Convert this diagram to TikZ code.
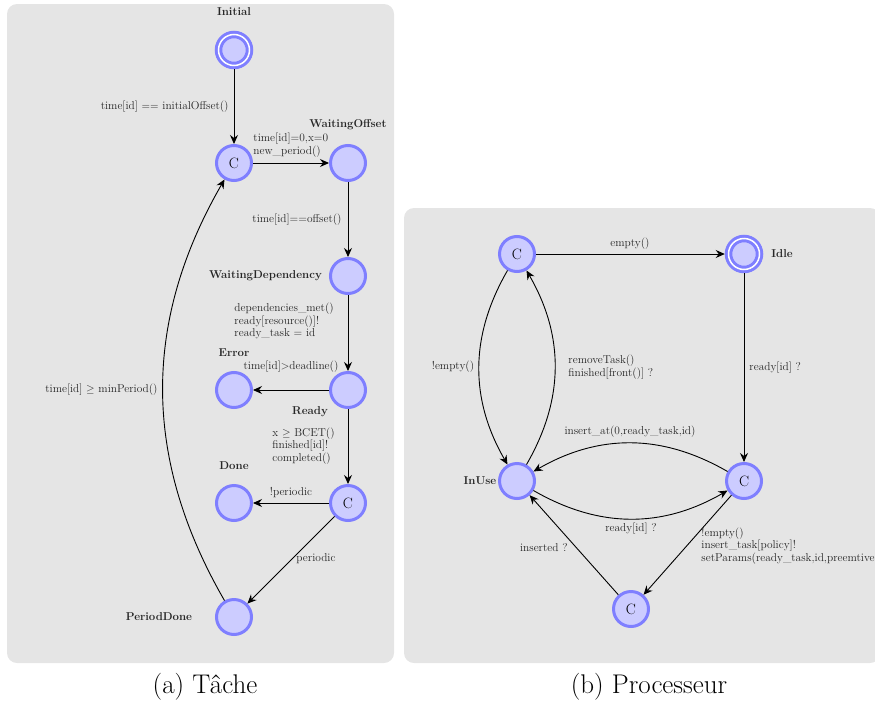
\documentclass[tikz,border=0pt]{standalone}
\usetikzlibrary{arrows.meta}
\definecolor{stateblue}{RGB}{127,127,255}
\definecolor{statefill}{RGB}{204,204,255}
\definecolor{panelgray}{RGB}{229,229,229}
\begin{document}
\begin{tikzpicture}[x=1pt,y=1pt,
 state/.style={circle, draw=stateblue, fill=statefill, line width=3pt, minimum size=35pt, inner sep=0pt, font=\fontsize{15}{15}\selectfont},
 initstate/.style={state, double=white, double distance=1.5pt, minimum size=31pt, outer sep=3.75pt},
 trans/.style={-{Stealth[length=9pt,width=8pt,inset=3pt]}, line width=0.9pt, black},
 lbl/.style={font=\fontsize{11.4}{12.8}\selectfont, inner sep=0pt, align=left, text=black!85},
 sname/.style={font=\bfseries\fontsize{11.4}{12}\selectfont, inner sep=0pt, text=black!85},
 panel/.style={fill=panelgray, rounded corners=10pt},
 caption/.style={font=\fontsize{27}{30}\selectfont, inner sep=0pt}
]
\clip (0,0) rectangle (875,-704);
\fill[panel] (7,-4) rectangle (394,-663);
\fill[panel] (404,-208) rectangle (880,-663);

% Tache
\node[initstate] (init) at (234,-50) {};
\node[state] (c1) at (234,-163) {C};
\node[state] (wo) at (348,-163) {};
\node[state] (wd) at (348,-276) {};
\node[state] (ready) at (348,-390) {};
\node[state] (err) at (234,-390) {};
\node[state] (c2) at (348,-503) {C};
\node[state] (done) at (234,-503) {};
\node[state] (pd) at (234,-617) {};

\node[sname] (nInit) at (234,-12) {Initial};
\node[sname] (nWO) at (348,-125) {WaitingOffset};
\node[sname, anchor=east] (nWD) at (322,-276) {WaitingDependency};
\node[sname] (nErr) at (234,-353) {Error};
\node[sname] (nReady) at (310,-412) {Ready};
\node[sname] (nDone) at (234,-466) {Done};
\node[sname] (nPD) at (159,-617) {PeriodDone};

\draw[trans] (init) -- (c1) node[lbl, anchor=east] (l1) at (229,-107) {time[id] $==$ initialOffset()};
\draw[trans] (c1) -- (wo) node[lbl, anchor=west] (l2) at (253,-145) {time[id]=0,x=0\\new\_period()};
\draw[trans] (wo) -- (wd) node[lbl, anchor=east] (l3) at (342,-220) {time[id]==offset()};
\draw[trans] (wd) -- (ready) node[lbl, anchor=west] (l4) at (234,-321) {dependencies\_met()\\ready[resource()]!\\ready\_task = id};
\draw[trans] (ready) -- (err) node[lbl] (l5) at (291,-367) {time[id]$>$deadline()};
\draw[trans] (ready) -- (c2) node[lbl, anchor=west] (l6) at (272,-446) {x $\geq$ BCET()\\finished[id]!\\completed()};
\draw[trans] (c2) -- (done) node[lbl] (l7) at (291,-493) {!periodic};
\draw[trans] (c2) -- (pd) node[lbl] (l8) at (316,-559) {periodic};
\draw[trans] (pd) to[bend left=30] (c1) node[lbl, anchor=east] (l9) at (158,-390) {time[id] $\geq$ minPeriod()};

% Processeur
\node[state] (c3) at (517,-254) {C};
\node[initstate] (idle) at (744,-254) {};
\node[state] (inuse) at (517,-481) {};
\node[state] (c4) at (744,-481) {C};
\node[state] (c5) at (631,-609) {C};
\node[sname] (nIdle) at (782,-254) {Idle};
\node[sname] (nInUse) at (480,-481) {InUse};

\draw[trans] (c3) -- (idle) node[lbl] (r1) at (630,-244) {empty()};
\draw[trans] (idle) -- (c4) node[lbl, anchor=west] (r2) at (749,-368) {ready[id] ?};
\draw[trans] (c3) to[bend right=30] (inuse) node[lbl] (r3) at (453,-367) {!empty()};
\draw[trans] (inuse) to[bend right=30] (c3) node[lbl, anchor=west] (r4) at (568,-367) {removeTask()\\finished[front()] ?};
\draw[trans] (c4) to[bend right=30] (inuse) node[lbl] (r5) at (630,-432) {insert\_at(0,ready\_task,id)};
\draw[trans] (inuse) to[bend right=30] (c4) node[lbl] (r6) at (631,-529) {ready[id] ?};
\draw[trans] (c4) -- (c5) node[lbl, anchor=west] (r7) at (701,-546) {!empty()\\insert\_task[policy]!\\setParams(ready\_task,id,preemtive};
\draw[trans] (c5) -- (inuse) node[lbl, anchor=east] (r8) at (568,-548) {inserted ?};

\node[caption] (capa) at (205,-687) {(a) Tâche};
\node[caption] (capb) at (649,-687) {(b) Processeur};
\end{tikzpicture}
\end{document}
